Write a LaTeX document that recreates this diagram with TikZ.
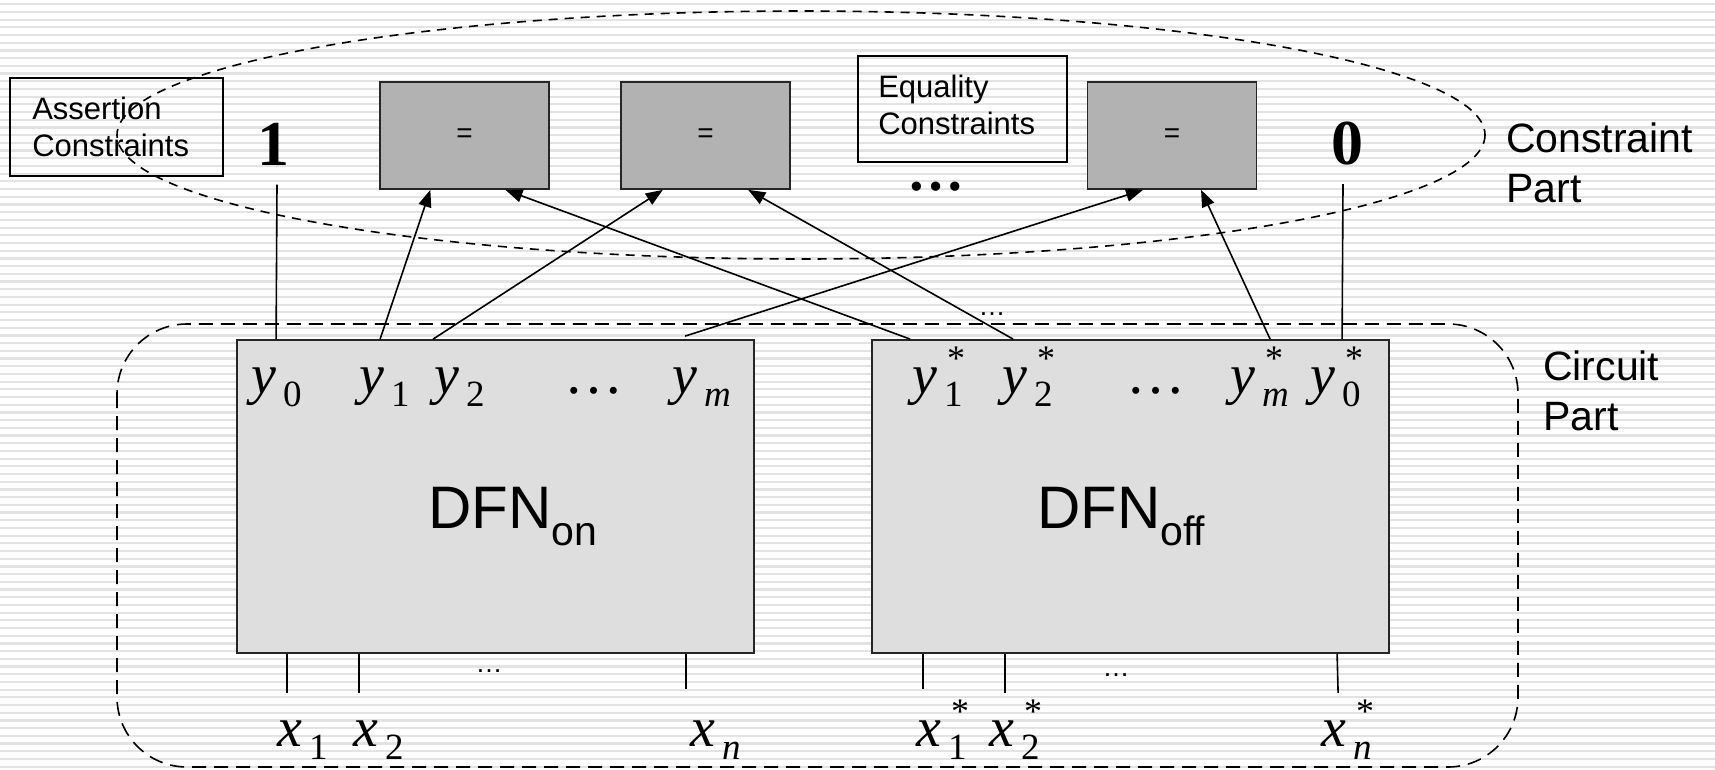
\documentclass[tikz,border=0pt]{standalone}
\usepackage{fontspec}
\setmainfont{Liberation Sans}
\newfontfamily\tms{Liberation Serif}
\usetikzlibrary{arrows.meta,calc}
\newcommand{\fs}[1]{\fontsize{#1}{#1}\selectfont}
% letter, subscript, superscript
\newcommand{\vv}[3]{\mbox{\tms\fs{56}\itshape #1}\kern7pt\rlap{\kern3pt\raisebox{23pt}{\tms\fs{36}#3}}\raisebox{-13pt}{\tms\fs{37}#2}}
\begin{document}
\begin{tikzpicture}[x=1pt,y=-1pt,
  stripe/.style={line width=2.2pt, black!11},
  eqbox/.style={draw=black!85, line width=1.8pt, fill=black!30, minimum width=169pt, minimum height=107pt, inner sep=0pt, font=\fs{28}},
  dfn/.style={draw=black!85, line width=1.8pt, fill=black!13, minimum width=517pt, minimum height=313pt, inner sep=0pt},
  txtbox/.style={draw=black, line width=1.8pt, inner sep=0pt, fill=none},
  boxtext/.style={anchor=north west, inner sep=0pt, align=left, font=\fontsize{31}{37}\selectfont},
  conn/.style={line width=1.6pt},
  arr/.style={conn, -{Triangle[length=17pt,width=13pt]}},
  var/.style={anchor=base west, inner sep=0pt},
  partlabel/.style={anchor=north west, inner sep=0pt, align=left, font=\fontsize{41}{50}\selectfont},
  smalldots/.style={inner sep=0pt, font=\fs{27}}
]
\useasboundingbox (0,0) rectangle (1715,770);
\fill[white] (0,0) rectangle (1715,770);
% background stripes
\foreach \i in {0,...,99}{\draw[stripe] (0,{4.3+7.7*\i}) -- (1715,{4.3+7.7*\i});}

% constraint part ellipse and circuit part outline
\draw[line width=1.6pt, dash pattern=on 9pt off 7pt] (801,135) ellipse [x radius=684, y radius=124];
\draw[line width=1.6pt, dash pattern=on 14pt off 8pt, rounded corners=70pt] (117,324) rectangle (1518,767);

% text boxes
\node[txtbox, minimum width=213pt, minimum height=98pt] (asbox) at (116.5,127) {};
\node[boxtext] (astext) at ($(asbox.north west)+(23,19.4)$) {Assertion\\Constraints};
\node[txtbox, minimum width=209pt, minimum height=106pt] (eqlbox) at (962.5,109) {};
\node[boxtext] (eqtext) at ($(eqlbox.north west)+(21,19.4)$) {Equality\\Constraints};

% equality constraint boxes
\node[eqbox] (b1) at (464.5,135.5) {=};
\node[eqbox] (b2) at (705.5,135.5) {=};
\node[eqbox] (b3) at (1172,135.5) {=};
\node[inner sep=0pt, anchor=base, font=\tms\bfseries\fs{57}] (cdots) at (936,190) {\symbol{"2026}};

% constants
\node[font=\tms\bfseries\fs{64}] (one) at (273,144) {1};
\node[font=\tms\bfseries\fs{64}] (zero) at (1347,144) {0};

% part labels
\node[partlabel] (cplabel) at (1506,123) {Constraint\\Part};
\node[partlabel] (cirlabel) at (1543,351) {Circuit\\Part};

% DFN boxes
\node[dfn] (on) at (495.5,496.5) {};
\node[dfn] (off) at (1130.5,496.5) {};
\node[var] (onlabel) at (428,528) {\fs{60}DFN\raisebox{-17pt}{\fs{41}on}};
\node[var] (offlabel) at (1037,528) {\fs{60}DFN\raisebox{-17pt}{\fs{41}off}};

% output pins
\coordinate (on-y0) at ($(on.north west)+(40,0)$);
\coordinate (on-y1) at ($(on.north west)+(144,0)$);
\coordinate (on-y2) at ($(on.north west)+(197,0)$);
\coordinate (on-ym) at ($(on.north west)+(449,-3)$);
\coordinate (off-y1) at ($(off.north west)+(39,0)$);
\coordinate (off-y2) at ($(off.north west)+(142,0)$);
\coordinate (off-ym) at ($(off.north west)+(399,0)$);
\coordinate (off-y0) at ($(off.north west)+(471,0)$);
\coordinate (one-end) at ($(one.south)+(4,16)$);
\coordinate (zero-end) at ($(zero.south)+(-4,15)$);

% connectors
\draw[conn] (one-end) -- (on-y0);
\draw[conn] (zero-end) -- (off-y0);
\draw[arr] (on-y1) -- ($(b1.south west)!0.30!(b1.south east)$);
\draw[arr] (on-y2) -- ($(b2.south west)!0.25!(b2.south east)$);
\draw[arr] (on-ym) -- ($(b3.south west)!0.33!(b3.south east)$);
\draw[arr] (off-y1) -- ($(b1.south west)!0.74!(b1.south east)$);
\draw[arr] (off-y2) -- ($(b2.south west)!0.75!(b2.south east)$);
\draw[arr] (off-ym) -- ($(b3.south west)!0.67!(b3.south east)$);
\node[smalldots] (topdots) at (992,314) {\symbol{"2026}};

% output labels
\node[var] (ly0) at (251,393) {\vv{y}{0}{}};
\node[var] (ly1) at (359,393) {\vv{y}{1}{}};
\node[var] (ly2) at (434,393) {\vv{y}{2}{}};
\node[var] (lydots) at (564,393) {\tms\fs{59}\symbol{"2026}};
\node[var] (lym) at (672,393) {\vv{y}{\itshape m}{}};
\node[var] (ly1s) at (912,393) {\vv{y}{1}{*}};
\node[var] (ly2s) at (1002,393) {\vv{y}{2}{*}};
\node[var] (lydotss) at (1126,393) {\tms\fs{59}\symbol{"2026}};
\node[var] (lyms) at (1230,393) {\vv{y}{\itshape m}{*}};
\node[var] (ly0s) at (1310,393) {\vv{y}{0}{*}};

% input pins
\coordinate (on-x1) at ($(on.south west)+(51,0)$);
\coordinate (on-x2) at ($(on.south west)+(123,0)$);
\coordinate (on-xn) at ($(on.south west)+(450,0)$);
\coordinate (off-x1) at ($(off.south west)+(52,0)$);
\coordinate (off-x2) at ($(off.south west)+(134,0)$);
\coordinate (off-xn) at ($(off.south west)+(466,0)$);
\coordinate (on-x1e) at ($(on-x1)+(0,39)$);
\coordinate (on-x2e) at ($(on-x2)+(0,39)$);
\coordinate (on-xne) at ($(on-xn)+(0,35)$);
\coordinate (off-x1e) at ($(off-x1)+(0,35)$);
\coordinate (off-x2e) at ($(off-x2)+(0,39)$);
\coordinate (off-xne) at ($(off-xn)+(1,39)$);
\draw[conn] (on-x1) -- (on-x1e);
\draw[conn] (on-x2) -- (on-x2e);
\draw[conn] (on-xn) -- (on-xne);
\draw[conn] (off-x1) -- (off-x1e);
\draw[conn] (off-x2) -- (off-x2e);
\draw[conn] (off-xn) -- (off-xne);
\node[smalldots] (ondots) at (489,671) {\symbol{"2026}};
\node[smalldots] (offdots) at (1116,675) {\symbol{"2026}};

% input labels
\node[var] (lx1) at (277,746) {\vv{x}{1}{}};
\node[var] (lx2) at (353,746) {\vv{x}{2}{}};
\node[var] (lxn) at (690,746) {\vv{x}{\itshape n}{}};
\node[var] (lx1s) at (916,746) {\vv{x}{1}{*}};
\node[var] (lx2s) at (989,746) {\vv{x}{2}{*}};
\node[var] (lxns) at (1321,746) {\vv{x}{\itshape n}{*}};
\end{tikzpicture}
\end{document}
